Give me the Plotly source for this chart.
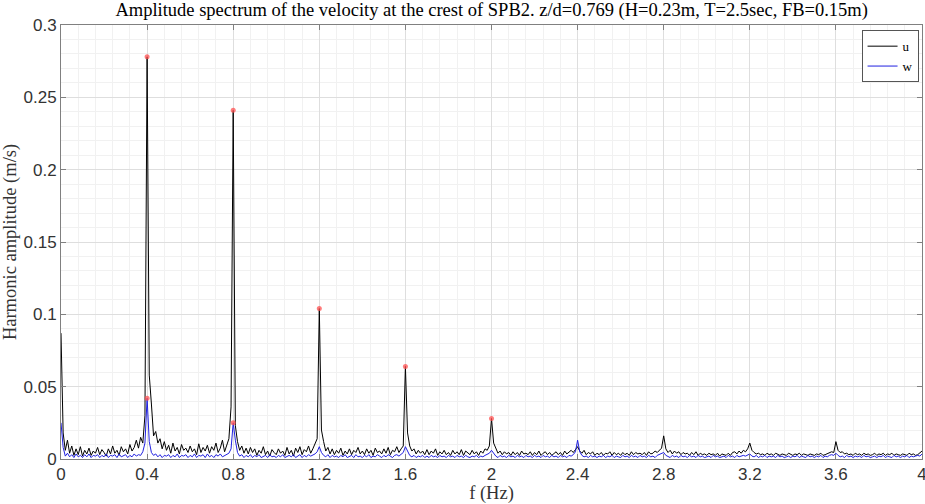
import plotly.graph_objects as go

# frequency step 0.01 Hz, 0 .. 4 Hz
f_step = 0.01
# amplitudes in units of 1e-4 m/s
u_vals = [
    870, 180, 60, 130, 40, 90, 25, 70, 30, 85,
    20, 60, 35, 75, 25, 55, 40, 80, 30, 65,
    45, 20, 70, 35, 90, 40, 60, 25, 85, 50,
    70, 35, 100, 55, 80, 130, 75, 150, 110, 300,
    2780, 580, 380, 160, 190, 110, 140, 70, 120, 60,
    95, 40, 110, 55, 80, 35, 100, 60, 75, 45,
    90, 50, 70, 30, 105, 45, 80, 55, 95, 40,
    85, 60, 110, 45, 75, 130, 50, 95, 140, 360,
    2410, 230, 120, 60, 90, 40, 75, 35, 80, 45,
    70, 25, 60, 40, 85, 30, 55, 20, 65, 45,
    30, 70, 40, 55, 25, 80, 35, 60, 20, 75,
    45, 85, 30, 65, 50, 90, 40, 70, 110, 140,
    1040, 200, 120, 55, 80, 35, 70, 30, 60, 40,
    75, 25, 55, 35, 70, 30, 60, 45, 80, 35,
    55, 30, 70, 40, 60, 25, 75, 45, 55, 35,
    70, 40, 80, 30, 60, 50, 85, 45, 70, 90,
    640, 180, 90, 55, 70, 35, 60, 40, 55, 30,
    65, 30, 55, 40, 70, 25, 50, 35, 60, 30,
    45, 25, 60, 35, 50, 30, 65, 25, 55, 40,
    30, 60, 35, 50, 25, 55, 40, 70, 60, 90,
    280, 110, 70, 40, 55, 30, 50, 35, 45, 25,
    50, 30, 45, 25, 55, 35, 40, 30, 50, 25,
    45, 30, 55, 25, 40, 50, 30, 45, 25, 40,
    50, 30, 45, 25, 55, 35, 50, 60, 45, 70,
    85, 55, 40, 60, 30, 45, 35, 50, 25, 40,
    30, 45, 25, 40, 35, 50, 25, 45, 30, 40,
    25, 45, 30, 40, 25, 50, 30, 45, 35, 40,
    30, 45, 25, 50, 35, 40, 55, 45, 60, 75,
    160, 70, 45, 60, 35, 55, 40, 50, 30, 45,
    35, 40, 25, 45, 30, 50, 25, 40, 30, 35,
    25, 40, 30, 35, 25, 40, 20, 35, 30, 25,
    40, 25, 45, 50, 35, 55, 40, 60, 50, 70,
    110, 60, 45, 35, 40, 30, 35, 25, 40, 30,
    35, 25, 40, 30, 25, 35, 30, 25, 40, 30,
    25, 35, 30, 40, 25, 35, 30, 25, 35, 30,
    25, 35, 30, 40, 25, 30, 35, 40, 50, 45,
    120, 60, 45, 50, 35, 40, 30, 35, 25, 40,
    30, 35, 25, 40, 30, 35, 25, 30, 40, 25,
    35, 30, 40, 25, 35, 30, 40, 25, 35, 30,
    25, 35, 30, 25, 40, 30, 35, 25, 30, 40,
    55,
]
w_vals = [
    250, 80, 20, 40, 15, 30, 10, 35, 15, 25,
    10, 30, 15, 35, 10, 25, 20, 30, 10, 25,
    15, 35, 10, 25, 20, 30, 10, 35, 15, 20,
    30, 10, 25, 15, 35, 20, 30, 25, 50, 110,
    420, 120, 45, 25, 35, 15, 30, 10, 25, 20,
    30, 10, 25, 15, 35, 10, 25, 20, 30, 10,
    25, 15, 35, 10, 25, 20, 30, 10, 35, 15,
    25, 10, 30, 20, 35, 15, 25, 30, 40, 70,
    250, 130, 45, 20, 30, 10, 25, 15, 30, 10,
    25, 15, 30, 10, 20, 25, 10, 30, 15, 20,
    10, 25, 15, 30, 10, 20, 25, 15, 30, 10,
    20, 30, 10, 25, 15, 30, 20, 25, 35, 50,
    85, 45, 25, 15, 30, 10, 25, 15, 20, 10,
    25, 15, 30, 10, 20, 25, 10, 30, 15, 20,
    10, 25, 15, 30, 10, 20, 15, 30, 20, 10,
    25, 15, 30, 20, 10, 25, 30, 20, 35, 45,
    85, 50, 25, 15, 25, 10, 20, 15, 25, 10,
    20, 10, 25, 15, 20, 10, 25, 15, 20, 10,
    25, 15, 20, 10, 25, 15, 20, 10, 25, 15,
    10, 20, 15, 25, 10, 20, 15, 25, 30, 40,
    60, 35, 20, 10, 25, 15, 20, 10, 25, 15,
    20, 10, 25, 15, 20, 10, 25, 15, 20, 10,
    25, 15, 20, 10, 25, 15, 20, 10, 25, 15,
    20, 10, 25, 15, 20, 10, 25, 20, 30, 50,
    130, 50, 25, 15, 20, 10, 25, 15, 20, 10,
    20, 15, 25, 10, 20, 15, 25, 10, 20, 15,
    10, 25, 15, 20, 10, 25, 15, 20, 10, 25,
    15, 20, 10, 25, 15, 20, 10, 25, 30, 35,
    45, 25, 20, 10, 25, 15, 20, 10, 25, 15,
    20, 10, 25, 15, 20, 10, 25, 15, 20, 10,
    15, 20, 10, 25, 15, 20, 10, 15, 20, 10,
    25, 15, 20, 10, 25, 15, 20, 25, 20, 30,
    35, 20, 15, 25, 10, 20, 15, 25, 10, 20,
    15, 20, 10, 25, 15, 20, 10, 15, 20, 10,
    20, 15, 25, 10, 20, 15, 10, 25, 15, 20,
    10, 20, 15, 25, 10, 20, 15, 25, 30, 25,
    40, 25, 15, 20, 10, 25, 15, 20, 10, 20,
    15, 20, 10, 25, 15, 20, 10, 15, 20, 10,
    20, 15, 25, 10, 20, 15, 10, 25, 15, 20,
    10, 20, 15, 25, 10, 20, 15, 20, 25, 20,
    35,
]
# detected peaks (Hz, m/s)
u_peak_f = [0.4, 0.8, 1.2, 1.6, 2.0]
u_peak_a = [0.278, 0.241, 0.104, 0.064, 0.028]
w_peak_f = [0.4, 0.8]
w_peak_a = [0.042, 0.025]

freq = [round(i * f_step, 2) for i in range(len(u_vals))]
u = [v * 1e-4 for v in u_vals]
w = [v * 1e-4 for v in w_vals]

serif = "Liberation Serif"
sans = "Liberation Sans"

fig = go.Figure()
fig.add_trace(go.Scatter(x=freq, y=u, mode="lines", name="u",
                         line=dict(color="black", width=1)))
fig.add_trace(go.Scatter(x=freq, y=w, mode="lines", name="w",
                         line=dict(color="#2020e0", width=1)))
fig.add_trace(go.Scatter(x=u_peak_f + w_peak_f, y=u_peak_a + w_peak_a,
                         mode="markers", showlegend=False,
                         marker=dict(color="rgba(255,80,80,0.75)", size=5)))

axis_common = dict(
    showline=True, linecolor="#808080", linewidth=1, mirror="ticks",
    ticks="inside", ticklen=5, tickcolor="#808080",
    showgrid=True, gridcolor="#dedede", gridwidth=1,
    zeroline=False, automargin=False, ticklabeloverflow="allow",
    tickfont=dict(family=sans, size=17, color="#333333"),
    minor=dict(showgrid=True, gridcolor="#f1f1f1", gridwidth=1),
)

fig.update_layout(
    width=925, height=504,
    margin=dict(l=61, r=3, t=25, b=45, autoexpand=False),
    paper_bgcolor="white", plot_bgcolor="white",
    title=dict(text="Amplitude spectrum of the velocity at the crest of SPB2. z/d=0.769 (H=0.23m, T=2.5sec, FB=0.15m)",
               font=dict(family=serif, size=18.5, color="black"),
               x=0.5315, xanchor="center", y=0.993, yanchor="top"),
    xaxis=dict(range=[0, 4], tickmode="array",
               tickvals=[0, 0.4, 0.8, 1.2, 1.6, 2, 2.4, 2.8, 3.2, 3.6, 4],
               ticktext=["0", "0.4", "0.8", "1.2", "1.6", "2", "2.4", "2.8", "3.2", "3.6", "4"],
               title=dict(text="f (Hz)", font=dict(family=serif, size=18.5, color="#333333"), standoff=0),
               **axis_common),
    yaxis=dict(range=[0, 0.3], tickmode="array",
               tickvals=[0, 0.05, 0.1, 0.15, 0.2, 0.25, 0.3],
               ticktext=["0", "0.05", "0.1", "0.15", "0.2", "0.25", "0.3"],
               title=dict(text="Harmonic amplitude (m/s)", font=dict(family=serif, size=18.5, color="#333333"), standoff=4),
               **axis_common),
    legend=dict(x=0.996, y=0.988, xanchor="right", yanchor="top",
                bgcolor="white", bordercolor="#555555", borderwidth=1,
                font=dict(family=serif, size=13, color="black"),
                itemwidth=30, tracegroupgap=0),
)
fig.update_xaxes(minor=dict(tickvals=[round(i * 0.08, 2) for i in range(51)]))
fig.update_yaxes(minor=dict(tickvals=[round(i * 0.01, 2) for i in range(31)]))

fig.write_html("out.html", config={"displayModeBar": False},
               post_script="document.body.style.margin='0';document.body.style.overflow='hidden';")
